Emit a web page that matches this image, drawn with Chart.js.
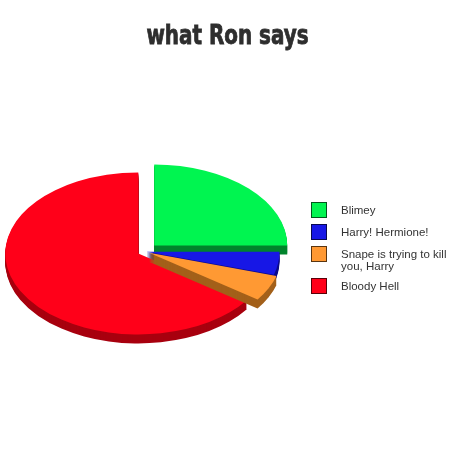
<!DOCTYPE html>
<html><head><meta charset="utf-8">
<script src="https://cdn.jsdelivr.net/npm/chart.js@4.4.1/dist/chart.umd.min.js"></script>
<style>
html,body{margin:0;padding:0;background:#fff;}
#wrap{position:relative;width:467px;height:462px;overflow:hidden;background:#fff;}
canvas{position:absolute;left:0;top:0;}
#title{position:absolute;left:0;top:20.5px;width:455px;text-align:center;font-family:"DejaVu Sans Condensed","DejaVu Sans",sans-serif;font-weight:bold;font-size:27px;line-height:27px;color:#2e2e2e;-webkit-text-stroke:0.8px #2e2e2e;transform:scaleX(0.82);transform-origin:50% 50%;white-space:nowrap;}
#legend{position:absolute;left:311px;top:202px;display:flex;flex-direction:column;gap:6px;font-family:"Liberation Sans",Arial,sans-serif;font-size:11.5px;color:#333;}
.row{display:flex;align-items:flex-start;}
.box{width:16px;height:16px;box-sizing:border-box;border:1px solid rgba(0,0,0,0.65);flex:none;}
.txt{margin-left:14px;padding-top:3px;line-height:11.7px;white-space:nowrap;}
</style></head><body>
<div id="wrap"><canvas id="c" width="467" height="462"></canvas><div id="title"></div><div id="legend"></div></div>
<script>
const chartTitle = 'what Ron says';
const categories = ['Blimey', 'Harry! Hermione!', 'Snape is trying to kill you, Harry', 'Bloody Hell'];
const legendLines = [['Blimey'], ['Harry! Hermione!'], ['Snape is trying to kill', 'you, Harry'], ['Bloody Hell']];
const values = [25, 4.6, 5.2, 65.2];
const topColors = ['#00f550', '#1717e6', '#ff9933', '#ff0019'];
const sideColors = ['#00842c', '#0a0a8a', '#a3601a', '#a8000f'];
const explode = [13.8, 2, 5, 7];
const drawOrder = [0, 1, 3, 2];
const tilt = 0.609;
const depth = 9;

document.getElementById('title').textContent = chartTitle;
const legendEl = document.getElementById('legend');
categories.forEach((c, i) => {
  const row = document.createElement('div'); row.className = 'row';
  const box = document.createElement('div'); box.className = 'box'; box.style.background = topColors[i];
  const txt = document.createElement('div'); txt.className = 'txt';
  legendLines[i].forEach((l, j) => { if (j) txt.appendChild(document.createElement('br')); txt.appendChild(document.createTextNode(l)); });
  row.appendChild(box); row.appendChild(txt); legendEl.appendChild(row);
});

const pie3d = {
  id: 'pie3d',
  beforeDatasetsDraw(chart) {
    const ctx = chart.ctx;
    const arcs = chart.getDatasetMeta(0).data;
    const cx = arcs[0].x, cy = arcs[0].y;
    ctx.save();
    ctx.translate(cx, cy); ctx.scale(1, tilt); ctx.translate(-cx, -cy);
    drawOrder.forEach(i => {
      const a = arcs[i];
      const mid = (a.startAngle + a.endAngle) / 2;
      const dx = Math.cos(mid) * explode[i], dy = Math.sin(mid) * explode[i];
      const orig = a.options;
      a.options = Object.assign({}, orig, {backgroundColor: sideColors[i]});
      for (let s = depth; s >= 1; s--) {
        ctx.save(); ctx.translate(dx, dy + s / tilt); a.draw(ctx); ctx.restore();
      }
      a.options = orig;
      ctx.save(); ctx.translate(dx, dy); a.draw(ctx); ctx.restore();
    });
    ctx.restore();
    return false;
  }
};

new Chart(document.getElementById('c'), {
  type: 'pie',
  data: { labels: categories, datasets: [{ data: values, backgroundColor: topColors, borderWidth: 0, hoverOffset: 0, offset: 0 }] },
  options: {
    responsive: false, animation: false, events: [],
    layout: { padding: { left: 0, right: 178, top: 118.5, bottom: 77.5 } },
    plugins: { legend: { display: false }, tooltip: { enabled: false }, title: { display: false } }
  },
  plugins: [pie3d]
});
</script>
</body></html>
